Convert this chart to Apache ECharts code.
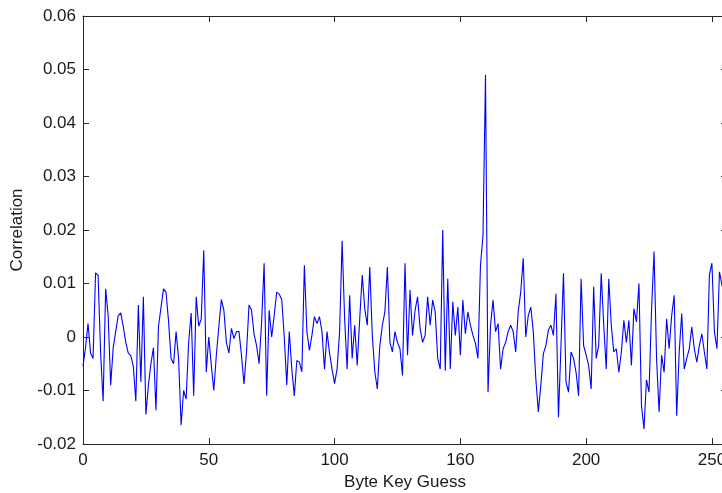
<!DOCTYPE html>
<html>
<head>
<meta charset="utf-8">
<script src="https://cdn.jsdelivr.net/npm/echarts@6/dist/echarts.min.js"></script>
<style>
  html, body { margin: 0; padding: 0; background: #ffffff; }
  #chart { width: 722px; height: 493px; }
</style>
</head>
<body>
<div id="chart"></div>
<script>
// Correlation per byte key guess (0..255)
const correlation = [
  -0.0055, -0.002, 0.0025, -0.003, -0.004, 0.012, 0.0115, -0.003, -0.012, 0.009,
  0.004, -0.009, -0.002, 0.001, 0.004, 0.0045, 0.002, -0.001, -0.003, -0.0035,
  -0.0055, -0.012, 0.006, -0.0084, 0.0075, -0.0145, -0.009, -0.005, -0.002, -0.0137,
  0.002, 0.0055, 0.009, 0.0084, 0.003, -0.004, -0.005, 0.001, -0.004, -0.0165,
  -0.010, -0.0116, -0.001, 0.0045, -0.011, 0.0075, 0.002, 0.0034, 0.0162, -0.0066,
  0, -0.0053, -0.010, -0.0034, 0.002, 0.007, 0.005, -0.001, -0.003, 0.0016,
  -0.0003, 0.001, 0.001, -0.0034, -0.0088, -0.0028, 0.006, 0.005, 0.0005, -0.0016,
  -0.005, 0.0028, 0.0138, -0.011, 0.005, 0, 0.004, 0.0084, 0.008, 0.007,
  0, -0.009, 0.001, -0.006, -0.011, -0.0044, -0.0047, -0.0065, 0.0134, 0.001,
  -0.0025, 0.0003, 0.0038, 0.0025, 0.0038, 0.001, -0.006, 0.001, -0.003, -0.006,
  -0.0087, -0.006, 0.001, 0.018, 0.0034, -0.006, 0.0078, -0.004, 0.0022, -0.0053,
  0.0034, 0.0116, 0.0053, 0.0022, 0.0131, 0.0003, -0.0065, -0.0097, -0.0016, 0.0022,
  0.0047, 0.0131, -0.001, -0.0028, 0.001, -0.001, -0.0022, -0.0072, 0.0138, -0.0034,
  0.0088, 0.0003, 0.005, 0.0075, 0.0016, -0.001, 0.0003, 0.0075, 0.0022, 0.0069,
  0.0047, -0.004, -0.006, 0.020, -0.0063, 0.0109, -0.006, 0.0066, 0.0003, 0.0056,
  -0.0034, 0.0069, 0.0006, 0.0047, 0.0022, 0.0003, -0.0012, -0.004, 0.0134, 0.019,
  0.049, -0.0103, 0.0022, 0.0069, 0.001, 0.0025, -0.006, -0.0022, -0.001, 0.001,
  0.0022, 0.001, -0.0028, 0.0047, 0.0084, 0.0147, 0, 0.004, 0.0056, 0.001,
  -0.0078, -0.014, -0.009, -0.0031, -0.0016, 0.0013, 0.0022, 0.0003, 0.0081, -0.015,
  -0.0016, 0.0119, -0.0084, -0.0103, -0.0028, -0.004, -0.0066, -0.011, 0.0109, -0.0016,
  -0.0034, -0.0053, -0.0097, 0.0094, -0.004, -0.0016, 0.0119, 0.0022, -0.006, 0.0109,
  0.0022, -0.0028, -0.0022, -0.0066, -0.0028, 0.0031, -0.001, 0.0031, -0.0053, 0.0053,
  0.0028, 0.010, -0.0128, -0.0172, -0.008, -0.0103, 0.005, 0.016, -0.004, -0.014,
  -0.0034, -0.0066, 0.0034, -0.0022, 0.004, 0.0078, -0.0147, -0.0028, 0.0044, -0.006,
  -0.004, -0.0022, 0.0019, -0.0022, -0.0047, -0.0016, 0.0006, -0.0028, -0.006, 0.0116,
  0.0138, 0.001, -0.0022, 0.0122, 0.0097, 0.008
];

// Tick positions and the labels printed at them (the reference prints "160" at 150)
const xTickValues = [0, 50, 100, 150, 200, 250];
const xTickLabels = ['0', '50', '100', '160', '200', '250'];
const yTickValues = [-0.02, -0.01, 0, 0.01, 0.02, 0.03, 0.04, 0.05, 0.06];
const yTickLabels = ['-0.02', '-0.01', '0', '0.01', '0.02', '0.03', '0.04', '0.05', '0.06'];

const xName = 'Byte Key Guess';
const yName = 'Correlation';

const seriesData = correlation.map((v, i) => [i, v]);

const FONT = '"Liberation Sans", Arial, Helvetica, sans-serif';
const AX = '#262626';

function xLabel(v) {
  for (let k = 0; k < xTickValues.length; k++) {
    if (Math.abs(v - xTickValues[k]) < 1e-6) return xTickLabels[k];
  }
  return '';
}
function yLabel(v) {
  for (let k = 0; k < yTickValues.length; k++) {
    if (Math.abs(v - yTickValues[k]) < 1e-9) return yTickLabels[k];
  }
  return '';
}

const chart = echarts.init(document.getElementById('chart'), null, { renderer: 'canvas' });

const baseX = {
  type: 'value', min: 0, max: 256, interval: 50,
  axisLine: { show: true, onZero: false, lineStyle: { color: AX, width: 1 } },
  axisTick: { show: true, inside: true, length: 6, lineStyle: { color: AX } },
  splitLine: { show: false }
};
const baseY = {
  type: 'value', min: -0.02, max: 0.06, interval: 0.01,
  axisLine: { show: true, onZero: false, lineStyle: { color: AX, width: 1 } },
  axisTick: { show: true, inside: true, length: 6, lineStyle: { color: AX } },
  splitLine: { show: false }
};

chart.setOption({
  animation: false,
  backgroundColor: '#ffffff',
  grid: { left: 83, top: 16, width: 644, height: 428, containLabel: false, outerBoundsMode: 'none' },
  xAxis: [
    Object.assign({}, baseX, {
      position: 'bottom',
      name: xName, nameLocation: 'middle', nameGap: 30,
      nameTextStyle: { color: '#1a1a1a', fontFamily: FONT, fontSize: 17, verticalAlign: 'top' },
      axisLabel: { show: true, margin: 8, color: '#1a1a1a', fontFamily: FONT, fontSize: 17,
                   formatter: xLabel, showMaxLabel: false }
    }),
    Object.assign({}, baseX, { position: 'top', axisLabel: { show: false } })
  ],
  yAxis: [
    Object.assign({}, baseY, {
      position: 'left',
      name: yName, nameLocation: 'middle', nameGap: 57,
      nameTextStyle: { color: '#1a1a1a', fontFamily: FONT, fontSize: 17 },
      axisLabel: { show: true, margin: 7, color: '#1a1a1a', fontFamily: FONT, fontSize: 17,
                   formatter: yLabel }
    }),
    Object.assign({}, baseY, { position: 'right', axisLabel: { show: false } })
  ],
  series: [{
    type: 'line',
    xAxisIndex: 0, yAxisIndex: 0,
    data: seriesData,
    showSymbol: false,
    symbol: 'none',
    lineStyle: { color: '#0000ff', width: 1.1 },
    clip: true
  }]
});
</script>
</body>
</html>
